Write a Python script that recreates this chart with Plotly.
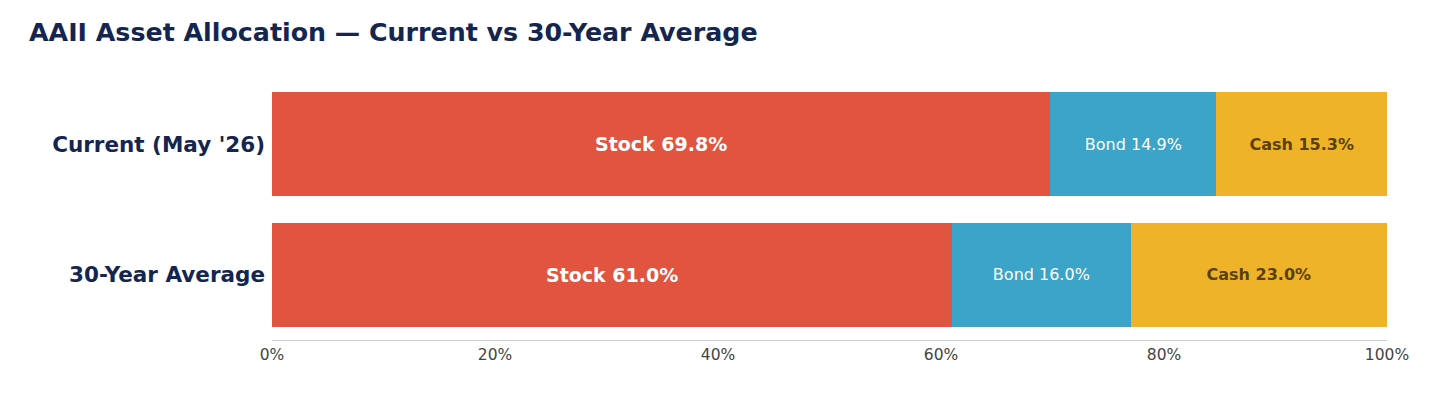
import plotly.graph_objects as go

categories = ["Current (May '26)", "30-Year Average"]
stock = [69.8, 61.0]
bond = [14.9, 16.0]
cash = [15.3, 23.0]
tick_vals = [0, 20, 40, 60, 80, 100]
tick_text = ["0%", "20%", "40%", "60%", "80%", "100%"]

NAVY = "#14254f"

fig = go.Figure()
series = [
    ("Stock", stock, "#e05440", dict(color="white", size=19, family="DejaVu Sans"), "<b>Stock %{x:.1f}%</b>"),
    ("Bond", bond, "#3ba4c8", dict(color="white", size=16, family="DejaVu Sans"), "Bond %{x:.1f}%"),
    ("Cash", cash, "#efb329", dict(color="#5a4100", size=16, family="DejaVu Sans"), "<b>Cash %{x:.1f}%</b>"),
]
for name, vals, color, tf, tmpl in series:
    fig.add_trace(go.Bar(
        y=categories, x=vals, name=name, orientation="h",
        marker=dict(color=color, line=dict(width=0)),
        texttemplate=tmpl, textposition="inside", insidetextanchor="middle",
        textangle=0, insidetextfont=tf, hoverinfo="skip",
    ))

fig.update_layout(
    barmode="stack", bargap=0.2,
    width=1430, height=403,
    margin=dict(l=272, r=43, t=79, b=63),
    paper_bgcolor="white", plot_bgcolor="white",
    showlegend=False,
    title=dict(text="<b>AAII Asset Allocation — Current vs 30-Year Average</b>",
               x=29 / 1430, xref="container", xanchor="left", y=0.92, yanchor="middle",
               font=dict(family="DejaVu Sans", size=25.3, color=NAVY)),
)
fig.update_xaxes(range=[0, 100], tickvals=tick_vals, ticktext=tick_text,
                 showgrid=False, zeroline=False, showline=True, linecolor="#cccccc",
                 linewidth=1, tickfont=dict(family="DejaVu Sans", size=15.5, color="#444444"),
                 ticks="", fixedrange=True)
fig.update_yaxes(categoryorder="array", categoryarray=categories[::-1],
                 showgrid=False, zeroline=False, showline=False, ticks="",
                 ticklabelstandoff=6,
                 tickprefix="<b>", ticksuffix="</b>",
                 tickfont=dict(family="DejaVu Sans", size=21.5, color=NAVY))

fig.write_html("out.html")
